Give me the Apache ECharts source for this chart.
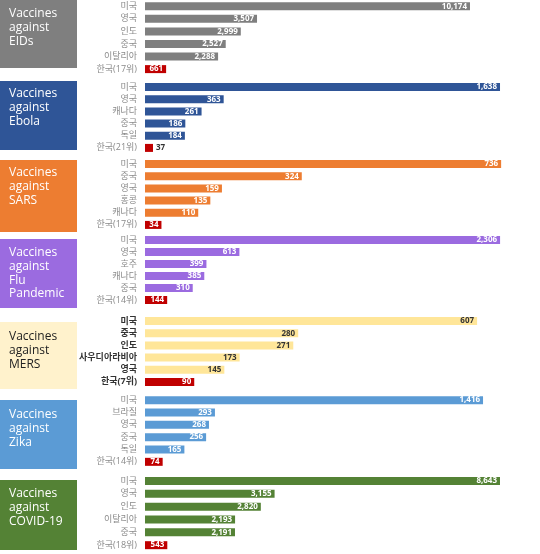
<!DOCTYPE html>
<html><head><meta charset="utf-8">
<script src="https://cdn.jsdelivr.net/npm/echarts@6/dist/echarts.min.js"></script>
<style>html,body{margin:0;padding:0;background:#fff}#c{width:540px;height:554px}</style>
</head><body><div id="c"></div>
<script>
// ---- data ----
const titles = [
  ["Vaccines","against","EIDs"],
  ["Vaccines","against","Ebola"],
  ["Vaccines","against","SARS"],
  ["Vaccines","against","Flu","Pandemic"],
  ["Vaccines","against","MERS"],
  ["Vaccines","against","Zika"],
  ["Vaccines","against","COVID-19"]
];
const catsEIDs  = ["미국","영국","인도","중국","이탈리아","한국(17위)"];
const valsEIDs  = [10174,3507,2999,2527,2288,661];
const catsEbola = ["미국","영국","캐나다","중국","독일","한국(21위)"];
const valsEbola = [1638,363,261,186,184,37];
const catsSARS  = ["미국","중국","영국","홍콩","캐나다","한국(17위)"];
const valsSARS  = [736,324,159,135,110,34];
const catsFlu   = ["미국","영국","호주","캐나다","중국","한국(14위)"];
const valsFlu   = [2306,613,399,385,310,144];
const catsMERS  = ["미국","중국","인도","사우디아라비아","영국","한국(7위)"];
const valsMERS  = [607,280,271,173,145,90];
const catsZika  = ["미국","브라질","영국","중국","독일","한국(14위)"];
const valsZika  = [1416,293,268,256,165,74];
const catsCOVID = ["미국","영국","인도","이탈리아","중국","한국(18위)"];
const valsCOVID = [8643,3155,2820,2193,2191,543];

const cats = [catsEIDs,catsEbola,catsSARS,catsFlu,catsMERS,catsZika,catsCOVID];
const vals = [valsEIDs,valsEbola,valsSARS,valsFlu,valsMERS,valsZika,valsCOVID];

// ---- layout/style ----
const axisMax = [11270,1661,744,2338,658,1508,8765];
const gridTop = [-3.6,81,158,234,315,394,474.6];
const gridH   = [79,73,73,72,73,74,77];
const boxTop  = [-10,81,160,239,322,400,480];
const boxH    = [78,69,72,69,67,69,70];
const textOff = [18,7,7,8,9,9,8];
const barColor = ['#7f7f7f','#2f5597','#ed7d31','#9b6be0','#ffe699','#5b9bd5','#548235'];
const boxColor = ['#7f7f7f','#2f5597','#ed7d31','#9b6be0','#fff2cc','#5b9bd5','#548235'];
const boxText  = ['#fff','#fff','#fff','#fff','#222','#fff','#fff'];
const KOREA = '#c00000';
const GL = 145, GW = 360;
const FONT = '"Open Sans","Noto Sans","Noto Sans CJK KR",sans-serif';

const grids=[], xAxes=[], yAxes=[], series=[], graphics=[];
for (let p=0;p<7;p++){
  const mers = p===4;
  grids.push({left:GL, width:GW, top:gridTop[p], height:gridH[p]});
  xAxes.push({type:'value', gridIndex:p, min:0, max:axisMax[p], show:false});
  yAxes.push({type:'category', gridIndex:p, inverse:true, data:cats[p],
    axisLine:{show:false}, axisTick:{show:false},
    axisLabel:{color: mers?'#333':'#8a8a8a', fontSize:9, fontWeight: mers?'bold':'normal', margin:8, fontFamily:FONT}});
  const data = vals[p].map((v,i)=>{
    const last = i===vals[p].length-1;
    const px = v/axisMax[p]*GW;
    const outside = px<14;
    return {value:v,
      itemStyle:{color: last?KOREA:barColor[p]},
      label:{position: outside?'right':'insideRight',
        color: outside ? '#333' : (mers && !last ? '#333' : '#fff'),
        distance:3}};
  });
  series.push({type:'bar', xAxisIndex:p, yAxisIndex:p, data, barWidth:8,
    label:{show:true, fontSize:8, fontWeight:'bold', fontFamily:FONT,
      formatter:(d)=>d.value.toLocaleString('en-US')},
    silent:true, animation:false});
  graphics.push({type:'rect', left:0, top:boxTop[p], shape:{width:77, height:boxH[p]}, style:{fill:boxColor[p]}});
  const lines = titles[p];
  const lh = 13.6;
  const startY = boxTop[p] + textOff[p];
  lines.forEach((t,k)=>{
    graphics.push({type:'text', left:9, top:startY + k*lh,
      style:{text:t, fill:boxText[p], font:'12px '+FONT}});
  });
}

const chart = echarts.init(document.getElementById('c'), null, {renderer:'canvas'});
chart.setOption({animation:false, grid:grids, xAxis:xAxes, yAxis:yAxes, series, graphic:graphics});
</script></body></html>
